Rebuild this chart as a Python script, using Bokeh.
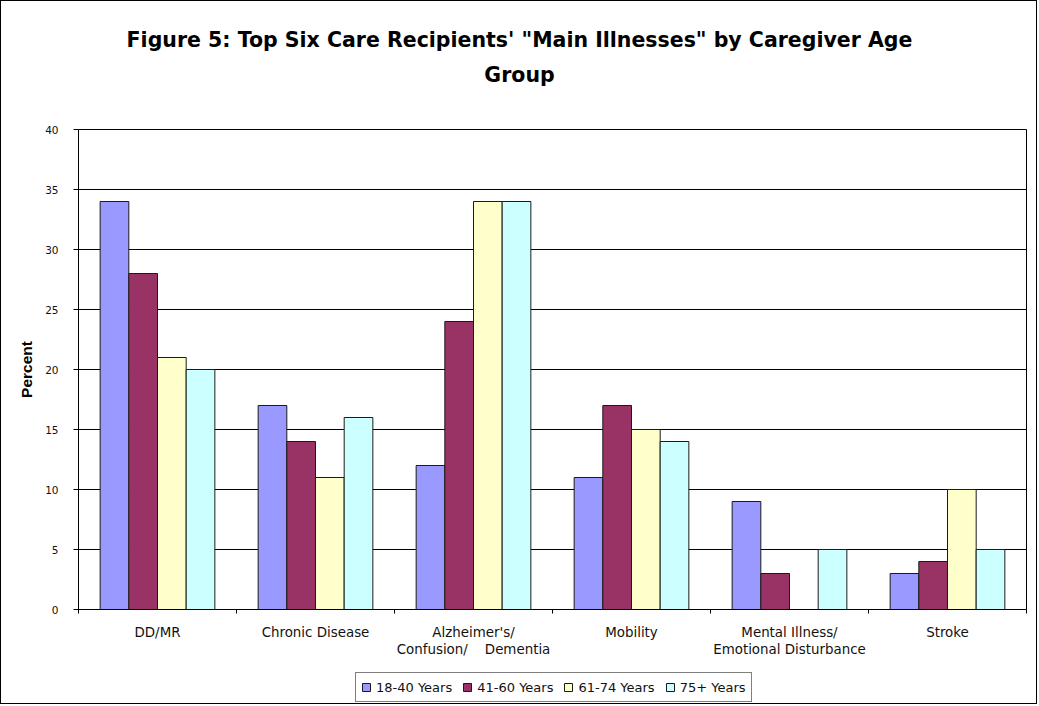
from bokeh.plotting import figure
from bokeh.models import Range1d, FixedTicker, Label
from bokeh.layouts import column
from bokeh.embed import file_html
from bokeh.resources import INLINE

NB = "\u00a0"
categories = ["DD/MR", "Chronic Disease", "Alzheimer's/\nConfusion/" + NB * 4 + "Dementia",
              "Mobility", "Mental Illness/\nEmotional Disturbance", "Stroke"]
series_names = ["18-40 Years", "41-60 Years", "61-74 Years", "75+ Years"]
age_18_40 = [34, 17, 12, 11, 9, 3]
age_41_60 = [28, 14, 24, 17, 3, 4]
age_61_74 = [21, 11, 34, 15, 0, 10]
age_75_up = [20, 16, 34, 14, 5, 5]
y_ticks = [0, 5, 10, 15, 20, 25, 30, 35, 40]
title_line1 = "Figure 5: Top Six Care Recipients' \"Main Illnesses\" by Caregiver Age"
title_line2 = "Group"

series = [age_18_40, age_41_60, age_61_74, age_75_up]
colors = ["#9999FF", "#993366", "#FFFFCC", "#CCFFFF"]

W = 1035
H_TITLE, H_MAIN, H_LEG = 100, 568, 34
ML, MR = 77, 10
bw = 0.1815
n = len(series)


def positions(j):
    return [i + 0.5 + (j - (n - 1) / 2) * bw for i in range(len(categories))]


def strip(height):
    f = figure(width=W, height=height, output_backend="svg", toolbar_location=None,
               x_axis_location=None, y_axis_location=None,
               x_range=Range1d(0, len(categories)), y_range=Range1d(1000, 1001),
               min_border_left=ML, min_border_right=MR, min_border_top=0,
               min_border_bottom=0)
    f.outline_line_color = None
    f.background_fill_color = "white"
    f.border_fill_color = "white"
    f.xgrid.grid_line_color = None
    f.ygrid.grid_line_color = None
    return f


# ---- title strip ----
t = strip(H_TITLE)
for txt, yy in [(title_line1, 61.3), (title_line2, 27)]:
    t.add_layout(Label(x=441, y=yy, x_units="screen", y_units="screen", text=txt,
                       text_align="center", text_baseline="alphabetic",
                       text_font="DejaVu Sans", text_font_style="bold",
                       text_font_size="20.5px", text_color="#000000"))

# ---- main chart ----
p = figure(width=W, height=H_MAIN, output_backend="svg", toolbar_location=None,
           x_range=Range1d(0, len(categories)), y_range=Range1d(0, 40),
           min_border_left=ML, min_border_right=MR, min_border_top=28,
           min_border_bottom=60)
p.background_fill_color = "white"
p.border_fill_color = "white"
p.outline_line_color = "#000000"
p.outline_line_width = 1

for j, (vals, col) in enumerate(zip(series, colors)):
    p.vbar(x=positions(j), top=vals, width=bw, bottom=0, fill_color=col,
           line_color="#1a1a1a", line_width=1)

xa = p.xaxis[0]
xa.ticker = FixedTicker(ticks=[i + 0.5 for i in range(len(categories))],
                        minor_ticks=list(range(len(categories) + 1)))
xa.major_label_overrides = {i + 0.5: c for i, c in enumerate(categories)}
xa.major_tick_out = 0
xa.major_tick_in = 0
xa.minor_tick_out = 4
xa.minor_tick_in = 0
xa.minor_tick_line_color = "#000000"
xa.axis_line_color = "#000000"
xa.major_label_standoff = 11
xa.major_label_text_font = "DejaVu Sans"
xa.major_label_text_font_size = "13.4px"
xa.major_label_text_color = "#111111"
xa.major_label_text_line_height = 1.18

ya = p.yaxis[0]
ya.ticker = FixedTicker(ticks=y_ticks)
ya.minor_tick_line_color = None
ya.major_tick_out = 5
ya.major_tick_in = 0
ya.major_tick_line_color = "#000000"
ya.axis_line_color = "#000000"
ya.major_label_standoff = 15
ya.major_label_text_font = "DejaVu Sans"
ya.major_label_text_font_size = "10.5px"
ya.major_label_text_color = "#111111"
ya.axis_label = "Percent"
ya.axis_label_text_font = "Liberation Sans"
ya.axis_label_text_font_style = "bold"
ya.axis_label_text_font_size = "15.5px"
ya.axis_label_text_color = "#000000"
ya.axis_label_standoff = 7

p.xgrid.grid_line_color = None
p.ygrid.grid_line_color = "#000000"
p.ygrid.grid_line_alpha = 1.0
p.ygrid.grid_line_width = 1

# ---- legend strip (its bars lie far outside its range, only the legend shows) ----
q = strip(H_LEG)
for j, (vals, name, col) in enumerate(zip(series, series_names, colors)):
    q.vbar(x=positions(j), top=vals, width=bw, bottom=0, fill_color=col,
           line_color="#1a1a1a", line_width=1, legend_label=name)
lg = q.legend[0]
lg.orientation = "horizontal"
lg.location = (354 - ML, 1)
lg.border_line_color = "#000000"
lg.border_line_width = 1
lg.background_fill_color = "white"
lg.background_fill_alpha = 1.0
lg.label_text_font = "DejaVu Sans"
lg.label_text_font_size = "13px"
lg.label_text_color = "#111111"
lg.glyph_width = 10
lg.glyph_height = 10
lg.label_height = 18
lg.label_standoff = 5
lg.spacing = 10
lg.padding = 5
lg.margin = 0

layout = column(t, p, q, spacing=0, styles={"border": "1px solid #000000"})

open("out.html", "w").write(file_html(layout, INLINE))
